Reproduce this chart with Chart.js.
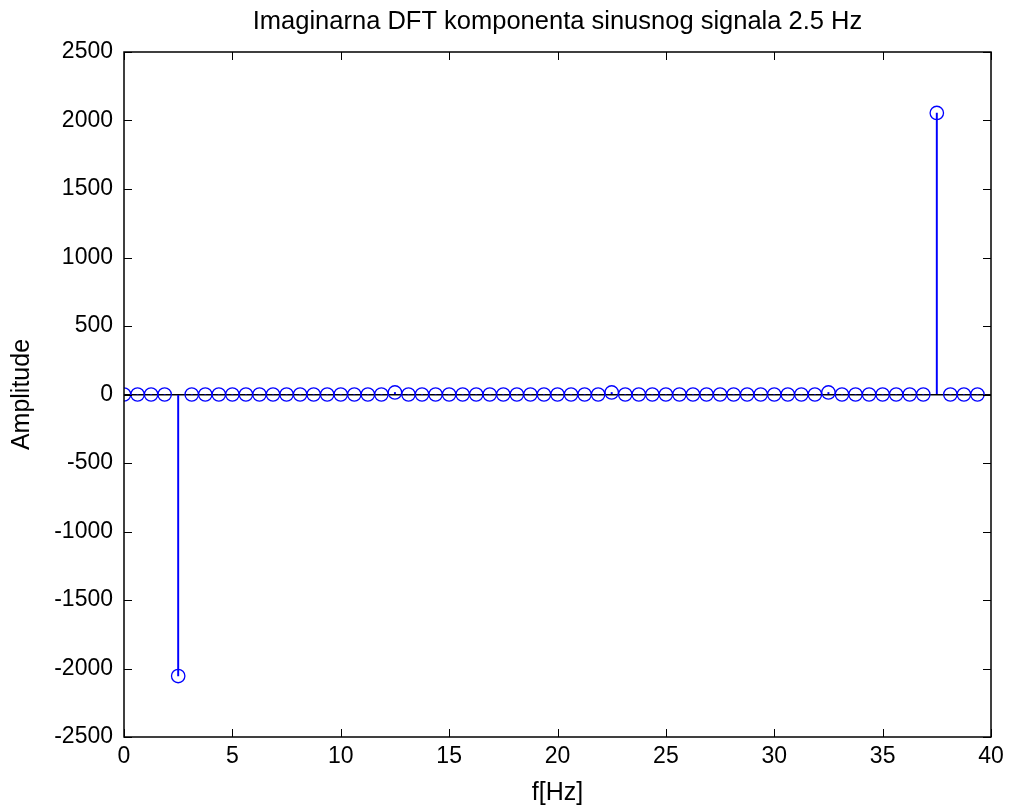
<!DOCTYPE html>
<html>
<head>
<meta charset="utf-8">
<script src="https://cdn.jsdelivr.net/npm/chart.js@4/dist/chart.umd.min.js"></script>
<style>
    html, body { margin: 0; padding: 0; background: #ffffff; }
    #wrap { width: 1011px; height: 811px; }
</style>
</head>
<body>
<div id="wrap"><canvas id="dft-chart" width="1011" height="811"></canvas></div>
<script>
// frequency bins (Hz)
const freqs = [
    0, 0.625, 1.25, 1.875, 2.5, 3.125, 3.75, 4.375,
    5, 5.625, 6.25, 6.875, 7.5, 8.125, 8.75, 9.375,
    10, 10.625, 11.25, 11.875, 12.5, 13.125, 13.75, 14.375,
    15, 15.625, 16.25, 16.875, 17.5, 18.125, 18.75, 19.375,
    20, 20.625, 21.25, 21.875, 22.5, 23.125, 23.75, 24.375,
    25, 25.625, 26.25, 26.875, 27.5, 28.125, 28.75, 29.375,
    30, 30.625, 31.25, 31.875, 32.5, 33.125, 33.75, 34.375,
    35, 35.625, 36.25, 36.875, 37.5, 38.125, 38.75, 39.375
];

// imaginary part of the DFT
const imagValues = [
    0, 0, 0, 0, -2055, 0, 0, 0,
    0, 0, 0, 0, 0, 0, 0, 0,
    0, 0, 0, 0, 15, 0, 0, 0,
    0, 0, 0, 0, 0, 0, 0, 0,
    0, 0, 0, 0, 15, 0, 0, 0,
    0, 0, 0, 0, 0, 0, 0, 0,
    0, 0, 0, 0, 15, 0, 0, 0,
    0, 0, 0, 0, 2055, 0, 0, 0
];

const xTicks = [0, 5, 10, 15, 20, 25, 30, 35, 40];
const yTicks = [-2500, -2000, -1500, -1000, -500, 0, 500, 1000, 1500, 2000, 2500];

const FONT = "'Liberation Sans', Arial, sans-serif";
const STEM_COLOR = '#0000ff';

const points = freqs.map((f, i) => ({ x: f, y: imagValues[i] }));

// MATLAB style box with inward ticks on all four sides
const boxPlugin = {
    id: 'matlabBox',
    afterDraw(chart) {
        const { ctx, chartArea: a, scales } = chart;
        const len = 8;
        ctx.save();
        ctx.strokeStyle = '#000000';
        ctx.lineWidth = 1;
        ctx.beginPath();
        xTicks.forEach(v => {
            const px = Math.round(scales.x.getPixelForValue(v)) + 0.5;
            ctx.moveTo(px, a.bottom); ctx.lineTo(px, a.bottom - len);
            ctx.moveTo(px, a.top); ctx.lineTo(px, a.top + len);
        });
        yTicks.forEach(v => {
            const py = Math.round(scales.y.getPixelForValue(v)) + 0.5;
            ctx.moveTo(a.left, py); ctx.lineTo(a.left + len, py);
            ctx.moveTo(a.right, py); ctx.lineTo(a.right - len, py);
        });
        ctx.stroke();
        ctx.lineWidth = 1.5;
        ctx.strokeRect(a.left, a.top, a.right - a.left, a.bottom - a.top);
        ctx.restore();
    }
};

const ctx = document.getElementById('dft-chart').getContext('2d');

new Chart(ctx, {
    type: 'bar',
    data: {
        datasets: [
            {
                type: 'bar',
                data: points,
                backgroundColor: STEM_COLOR,
                borderWidth: 0,
                barThickness: 1.3,
                order: 2
            },
            {
                type: 'scatter',
                data: points,
                pointStyle: 'circle',
                pointRadius: 6.7,
                pointBorderWidth: 1.3,
                pointBorderColor: STEM_COLOR,
                pointBackgroundColor: 'rgba(0,0,0,0)',
                showLine: false,
                order: 1
            }
        ]
    },
    options: {
        responsive: false,
        animation: false,
        layout: { padding: { left: 0, right: 20, top: 0, bottom: 0 } },
        plugins: {
            legend: { display: false },
            tooltip: { enabled: false },
            title: {
                display: true,
                fullSize: false,
                text: 'Imaginarna DFT komponenta sinusnog signala 2.5 Hz',
                color: '#000000',
                font: { family: FONT, size: 25.5, weight: 'normal', lineHeight: 1.2 },
                padding: { top: 6.5, bottom: 14.9 }
            }
        },
        scales: {
            x: {
                type: 'linear',
                offset: false,
                min: 0,
                max: 40,
                afterBuildTicks: scale => { scale.ticks = xTicks.map(v => ({ value: v })); },
                afterFit: scale => { scale.height = 74; },
                grid: { display: false, drawTicks: false },
                border: { display: false },
                ticks: {
                    color: '#000000', padding: 6, maxRotation: 0,
                    font: { family: FONT, size: 23 },
                    callback: v => String(v)
                },
                title: {
                    display: true,
                    text: 'f[Hz]',
                    color: '#000000',
                    font: { family: FONT, size: 25 },
                    padding: { top: 0, bottom: 3 }
                }
            },
            y: {
                min: -2500,
                max: 2500,
                afterBuildTicks: scale => { scale.ticks = yTicks.map(v => ({ value: v })); },
                afterFit: scale => { scale.width = 124; },
                grid: {
                    drawTicks: false,
                    lineWidth: 1.5,
                    color: c => (c.tick && c.tick.value === 0) ? '#000000' : 'rgba(0,0,0,0)'
                },
                border: { display: false },
                ticks: {
                    color: '#000000', padding: 11,
                    font: { family: FONT, size: 23 },
                    callback: v => String(v)
                },
                title: {
                    display: true,
                    text: 'Amplitude',
                    color: '#000000',
                    font: { family: FONT, size: 25 },
                    padding: { top: 7, bottom: 0 }
                }
            }
        }
    },
    plugins: [boxPlugin]
});
</script>
</body>
</html>
